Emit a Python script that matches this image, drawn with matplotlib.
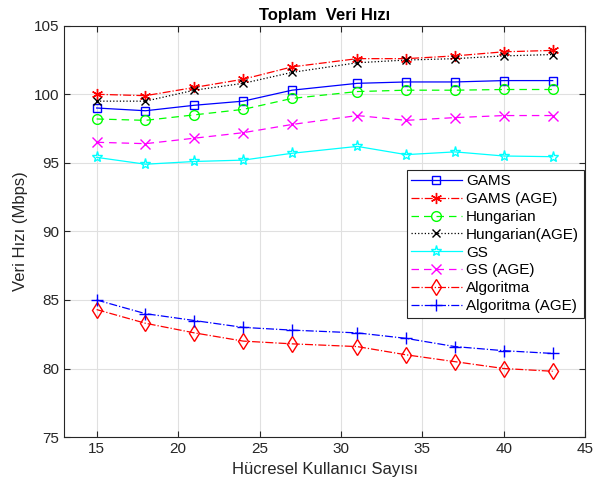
import numpy as np
import matplotlib
matplotlib.use('Agg')
import matplotlib.pyplot as plt

plt.rcParams['font.family'] = 'Liberation Sans'

# Hucresel kullanici sayisi
users = [15, 18, 21, 24, 27, 31, 34, 37, 40, 43]

gams          = [99.0, 98.8, 99.2, 99.5, 100.3, 100.8, 100.9, 100.9, 101.0, 101.0]
gams_age      = [100.0, 99.9, 100.5, 101.1, 102.0, 102.6, 102.6, 102.8, 103.1, 103.2]
hung          = [98.2, 98.1, 98.5, 98.9, 99.7, 100.2, 100.3, 100.3, 100.35, 100.35]
hung_age      = [99.5, 99.5, 100.3, 100.8, 101.6, 102.3, 102.5, 102.6, 102.8, 102.9]
gs            = [95.4, 94.9, 95.1, 95.2, 95.7, 96.2, 95.6, 95.8, 95.5, 95.45]
gs_age        = [96.5, 96.4, 96.8, 97.2, 97.8, 98.45, 98.1, 98.3, 98.45, 98.45]
algoritma     = [84.3, 83.3, 82.6, 82.0, 81.8, 81.6, 81.0, 80.5, 80.0, 79.8]
algoritma_age = [85.0, 84.0, 83.5, 83.0, 82.8, 82.6, 82.2, 81.6, 81.3, 81.1]

fig = plt.figure(figsize=(5.93, 4.95), dpi=100)
ax = fig.add_axes([0.108, 0.117, 0.879, 0.831])

lw = 0.9
ms = 6
ax.plot(users, gams, color='b', ls='-', lw=lw, marker='s', ms=ms, mfc='none', label='GAMS')
ax.plot(users, gams_age, color='r', ls='-.', lw=lw, marker=(6, 2, 0), ms=ms + 2, label='GAMS (AGE)')
ax.plot(users, hung, color=(0, 1, 0), ls=(0, (6, 4)), lw=lw, marker='o', ms=ms + 1, mfc='none', label='Hungarian')
ax.plot(users, hung_age, color='k', ls=':', lw=lw, marker='x', ms=ms, label='Hungarian(AGE)')
ax.plot(users, gs, color=(0, 1, 1), ls='-', lw=lw, marker='*', ms=ms + 2, mfc='none', label='GS')
ax.plot(users, gs_age, color=(1, 0, 1), ls=(0, (6, 4)), lw=lw, marker='x', ms=ms + 1, label='GS (AGE)')
ax.plot(users, algoritma, color='r', ls='-.', lw=lw, marker='d', ms=ms + 2, mfc='none', label='Algoritma')
ax.plot(users, algoritma_age, color='b', ls='-.', lw=lw, marker='+', ms=ms + 3, label='Algoritma (AGE)')

ax.set_xlim(13, 45)
ax.set_ylim(75, 105)
ax.set_xticks(np.arange(15, 46, 5))
ax.set_yticks(np.arange(75, 106, 5))
ax.grid(True, color='#e0e0e0', lw=0.8)
ax.set_axisbelow(True)
ax.tick_params(direction='in', top=True, right=True, labelsize=11, colors='#262626', length=4)
for s in ax.spines.values():
    s.set_color('#262626')
    s.set_linewidth(0.8)

ax.set_xlabel('Hücresel Kullanıcı Sayısı', fontsize=12, color='#262626')
ax.set_ylabel('Veri Hızı (Mbps)', fontsize=12, color='#262626')
ax.set_title('Toplam  Veri Hızı', fontsize=12, fontweight='bold', pad=4)

leg = ax.legend(loc='upper right', bbox_to_anchor=(0.997, 0.65), fontsize=11, fancybox=False,
                edgecolor='#262626', framealpha=1, handlelength=3.3, labelspacing=0.25,
                borderpad=0.3, handletextpad=0.3, borderaxespad=0)
leg.get_frame().set_linewidth(0.8)

plt.savefig('out.png', dpi=100)
